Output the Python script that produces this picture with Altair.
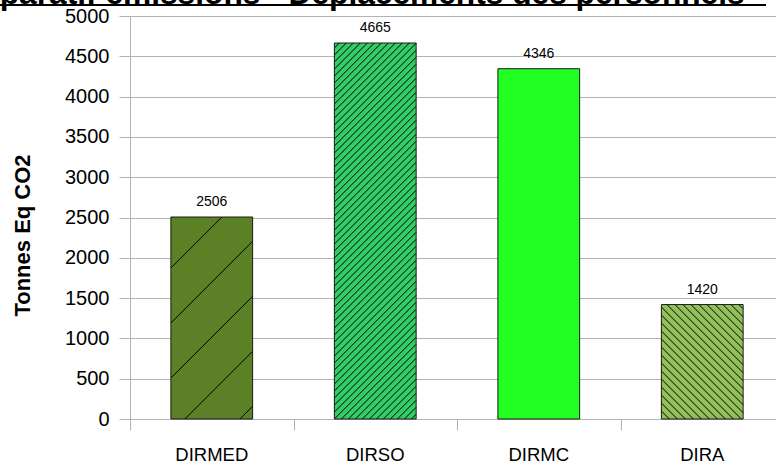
import altair as alt
import pandas as pd

# --- chart data -------------------------------------------------------------
categories = ["DIRMED", "DIRSO", "DIRMC", "DIRA"]
emissions = [2506, 4665, 4346, 1420]
fill_colors = ["#5b8026", "#33cc66", "#22ff22", "#92bf5a"]
y_ticks = list(range(0, 5001, 500))

# hatching per bar: direction, gap between lines (px), phase (px)
hatch_dirs = ["/", "/", None, "\\"]
hatch_gaps = [55, 7, 0, 8]
hatch_phase = [-14, 0, 0, 0]

TITLE = "Comparatif émissions - Déplacements des personnels"
Y_TITLE = "Tonnes Eq CO2"
FONT = "Liberation Sans"

# --- geometry -----------------------------------------------------------------
PLOT_W = 646            # visible plot width
RANGE_W = 654           # x range, last band runs past the right edge
PLOT_H = 403
Y_MAX = 5000
N = len(categories)
STEP = RANGE_W / N

df = pd.DataFrame({"cat": categories, "v": emissions})

# hatch segments clipped to each bar rectangle (pixel space -> data space)
rows = []
for i, (v, d, gap, ph) in enumerate(zip(emissions, hatch_dirs, hatch_gaps, hatch_phase)):
    if d is None:
        continue
    xl = i * STEP + 0.25 * STEP
    xr = i * STEP + 0.75 * STEP
    w = xr - xl
    h = v * PLOT_H / Y_MAX
    if d == "/":
        lo, hi = -w, h
    else:
        lo, hi = 0, h + w
    b = ph
    while b > lo:
        b -= gap
    while b < hi:
        if d == "/":
            xa, xb = max(xl, xl - b), min(xr, xl + h - b)
            ya, yb = xa - xl + b, xb - xl + b
        else:
            xa, xb = max(xl, xl + b - h), min(xr, xl + b)
            ya, yb = b - (xa - xl), b - (xb - xl)
        if xb - xa > 0.5:
            rows.append({
                "x": xa / STEP, "x2": xb / STEP,
                "y": ya * Y_MAX / PLOT_H, "y2": yb * Y_MAX / PLOT_H,
            })
        b += gap
hatch_df = pd.DataFrame(rows)

# --- scales & axes ------------------------------------------------------------
grid_gray = "#b3b3b3"
y_scale = alt.Scale(domain=[0, Y_MAX], nice=False, zero=True)
x_band = alt.Scale(domain=categories, range=[0, RANGE_W], paddingInner=0.5, paddingOuter=0.25)
x_lin = alt.Scale(domain=[0, N], range=[0, RANGE_W], nice=False, zero=False)

y_axis = alt.Axis(
    values=y_ticks, format="d", grid=True, gridColor=grid_gray, gridWidth=1,
    domainColor=grid_gray, tickColor=grid_gray, tickSize=11,
    labelPadding=10, labelFont=FONT, labelFontSize=20, labelFontWeight="normal",
    labelColor="black",
    title=Y_TITLE, titleFont=FONT, titleFontSize=22, titleFontWeight="bold",
    titleColor="black", titleAngle=270, titleBaseline="alphabetic",
    titleX=-101, titleY=219,
)
# category names under the band centres
x_axis = alt.Axis(
    orient="bottom", ticks=False, domain=False,
    labelFont=FONT, labelFontSize=18.5, labelFontWeight="normal",
    labelColor="black", labelAngle=0,
    labelBaseline="alphabetic", labelPadding=41, title=None, grid=False,
)
# ticks on the boundaries between categories
x_sep_axis = alt.Axis(
    orient="bottom", values=list(range(N + 1)), labels=False, tickSize=11,
    tickColor=grid_gray, domainColor=grid_gray, title=None, grid=False,
)

base = alt.Chart(df)
x_enc = alt.X("cat:N", sort=categories, scale=x_band, axis=x_axis)
x_enc_plain = alt.X("cat:N", sort=categories, scale=x_band, axis=None)
y_enc = alt.Y("v:Q", scale=y_scale, axis=y_axis)

bars = base.mark_bar(strokeWidth=0).encode(
    x=x_enc, y=y_enc,
    color=alt.Color("cat:N", scale=alt.Scale(domain=categories, range=fill_colors), legend=None),
)
outline = base.mark_bar(filled=False, stroke="#1a1a1a", strokeWidth=1).encode(
    x=x_enc_plain, y=y_enc,
)
labels = base.mark_text(dy=-11, baseline="alphabetic", font=FONT, fontSize=14, color="black").encode(
    x=x_enc_plain, y=y_enc, text=alt.Text("v:Q", format="d"),
)

hatch = alt.Chart(hatch_df).mark_rule(color="black", strokeWidth=1).encode(
    x=alt.X("x:Q", scale=x_lin, axis=x_sep_axis),
    x2="x2:Q",
    y=alt.Y("y:Q", scale=y_scale, axis=y_axis),
    y2="y2:Q",
)

one_row = alt.Data(values=[{}])
title_text = alt.Chart(one_row).mark_text(
    text=TITLE, font=FONT, fontSize=31.7, fontWeight="bold", color="black",
    align="center", baseline="alphabetic",
).encode(x=alt.value(207), y=alt.value(-12))
title_line = alt.Chart(one_row).mark_rule(color="black", strokeWidth=2).encode(
    x=alt.value(-130), x2=alt.value(636), y=alt.value(-11),
)

main = alt.layer(bars, hatch, outline, labels).resolve_scale(x="independent")

chart = alt.layer(main, title_text, title_line).properties(
    width=PLOT_W, height=PLOT_H,
    autosize=alt.AutoSizeParams(type="none"),
    padding={"left": 130, "top": 16, "right": 0, "bottom": 46},
    background="white",
).configure_view(stroke=None)

chart.save("out.html", embed_options={"renderer": "svg", "actions": False})
